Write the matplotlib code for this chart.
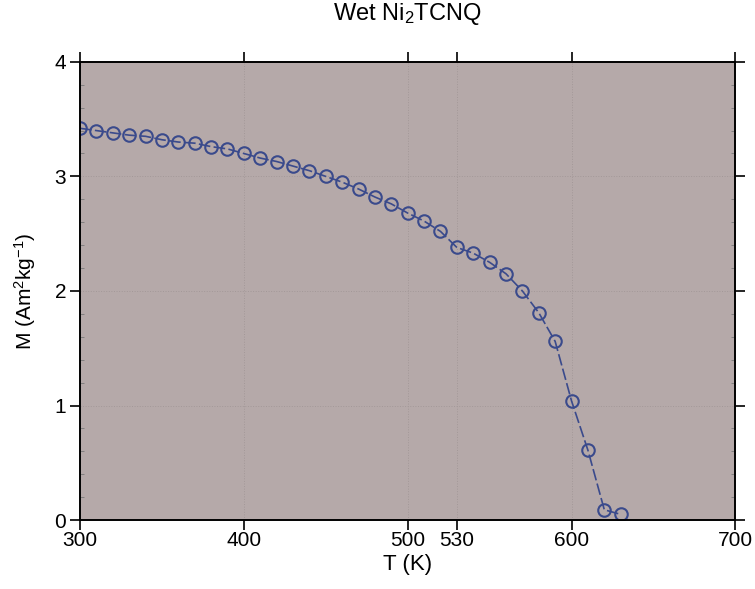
import matplotlib
matplotlib.use("Agg")
import matplotlib.pyplot as plt
from matplotlib.ticker import MultipleLocator

plt.rcParams['font.family'] = ['Liberation Sans', 'DejaVu Sans']
plt.rcParams['mathtext.fontset'] = 'custom'
plt.rcParams['mathtext.rm'] = 'Liberation Sans'
plt.rcParams['mathtext.it'] = 'Liberation Sans'

# temperature (K) and magnetisation (Am^2/kg)
temps = [300, 310, 320, 330, 340, 350, 360, 370, 380, 390,
         400, 410, 420, 430, 440, 450, 460, 470, 480, 490,
         500, 510, 520, 530, 540, 550, 560, 570, 580, 590,
         600, 610, 620, 630]
mag = [3.42, 3.40, 3.38, 3.36, 3.35, 3.32, 3.30, 3.29, 3.26, 3.24,
       3.20, 3.16, 3.13, 3.09, 3.05, 3.00, 2.95, 2.89, 2.82, 2.76,
       2.68, 2.61, 2.52, 2.38, 2.33, 2.25, 2.15, 2.00, 1.81, 1.56,
       1.04, 0.61, 0.09, 0.05]
xticks = [300, 400, 500, 530, 600, 700]
yticks = [0, 1, 2, 3, 4]

blue = '#3a4a8c'
bg = '#b5a9a9'

fig = plt.figure(figsize=(7.55, 5.89), dpi=100)
ax = fig.add_axes([0.106, 0.117, 0.868, 0.778])
ax.set_facecolor(bg)

ax.plot(temps, mag, color=blue, lw=1.2, dashes=(7, 2),
        marker='o', ms=9, mfc='none', mec=blue, mew=1.5)

ax.set_xlim(300, 700)
ax.set_ylim(0, 4)
ax.set_xticks(xticks)
ax.set_yticks(yticks)
ax.yaxis.set_minor_locator(MultipleLocator(0.2))
ax.grid(True, which='major', color='#a39898', ls=':', lw=0.7)

ax.tick_params(which='major', direction='out', length=7, width=1.2,
               labelsize=15, top=True, right=True, pad=3)
ax.tick_params(axis='x', which='major', pad=1)
ax.tick_params(which='minor', direction='in', length=3, width=0.6,
               color='#777777', left=True, right=True)
for s in ax.spines.values():
    s.set_linewidth(1.4)

ax.set_xlabel('T (K)', fontsize=16, labelpad=3)
ax.set_ylabel('M (Am$^{2}$kg$^{-1}$)', fontsize=15, labelpad=12)
ax.set_title('Wet Ni$_{2}$TCNQ', fontsize=17, pad=30)

fig.savefig('out.png', dpi=100)
